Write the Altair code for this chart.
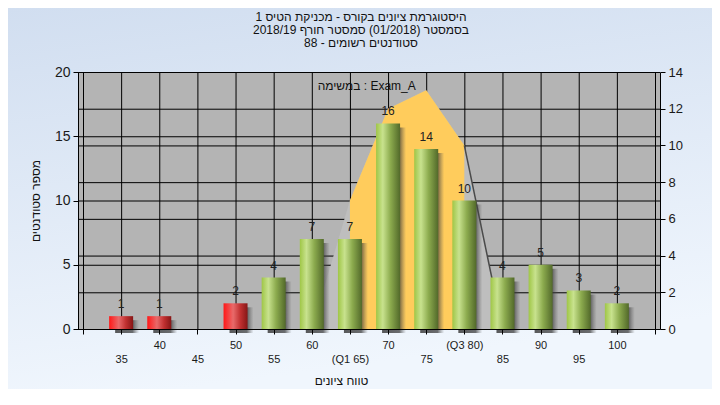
import altair as alt
import pandas as pd

# ---------------- data ----------------
grades = [35, 40, 45, 50, 55, 60, 65, 70, 75, 80, 85, 90, 95, 100]
counts = [1, 1, 0, 2, 4, 7, 7, 16, 14, 10, 4, 5, 3, 2]
pass_mark = 55

curve_grades = [60, 65, 70, 75, 80, 85]
curve_values = [0, 7, 12, 13, 10, 0]
q1, q3 = 65, 80

x_ticks = [30, 35, 40, 45, 50, 55, 60, 65, 70, 75, 80, 85, 90, 95, 100, 105]
left_ticks = [0, 5, 10, 15, 20]
right_ticks = [0, 2, 4, 6, 8, 10, 12, 14]
special_labels = {65: "(Q1 65)", 80: "(Q3 80)"}

title_lines = [
    "היסטוגרמת ציונים בקורס - מכניקת הטיס 1",
    "בסמסטר  (01/2018)  סמסטר חורף 2018/19",
    "סטודנטים רשומים - 88",
]
y_title = "מספר סטודנטים"
x_title = "טווח ציונים"
note_text = ["במשימה : Exam_A"]
note_x = [67.2]
note_y = [18.9]

FONT = "Liberation Sans, DejaVu Sans, sans-serif"
W, H = 582, 257
PAD = {"left": 70, "top": 64, "right": 52, "bottom": 60}

bars_df = pd.DataFrame({"grade": grades, "count": counts})
curve_df = pd.DataFrame({"grade": curve_grades, "value": curve_values})
note_df = pd.DataFrame({"text": note_text, "grade": note_x, "count": note_y})

# label expression: staggered two rows, Q1/Q3 annotated
parts = []
for v, s in special_labels.items():
    parts.append(f"datum.value == {v} ? '{s}'")
lab = " : ".join(parts) + " : datum.label"
label_expr = (
    f"(datum.value == {x_ticks[0]} || datum.value == {x_ticks[-1]}) ? '' : "
    f"(datum.value % 10 == 5 ? ['', ({lab})] : ({lab}))"
)

x_scale = alt.Scale(domain=[x_ticks[0], x_ticks[-1]], nice=False, zero=False)
left_scale = alt.Scale(domain=[left_ticks[0], left_ticks[-1]], nice=False)
right_scale = alt.Scale(domain=[right_ticks[0], right_ticks[-1]], nice=False)

x_axis = alt.Axis(
    values=x_ticks, grid=False, zindex=1,
    domainColor="black", tickColor="black", tickSize=5,
    labelExpr=label_expr, labelFontSize=11, labelPadding=5, labelLineHeight=14,
    labelOverlap=False, labelFlush=False, labelColor="#1a1a1a", labelFont=FONT,
    title=x_title, titleFontSize=12, titleFontWeight="normal", titleFont=FONT,
    titlePadding=11, titleColor="#111", titleX=263,
)

left_axis = alt.Axis(
    orient="left", values=left_ticks, grid=False, zindex=1,
    domainColor="black", tickColor="black", tickSize=5,
    labelFontSize=14, labelPadding=3, labelColor="#1a1a1a", labelFont=FONT,
    title=y_title, titleFontSize=12, titleFontWeight="normal", titleFont=FONT,
    titlePadding=12, titleColor="#111",
)

right_axis = alt.Axis(
    orient="right", values=right_ticks, grid=False, zindex=1,
    domainColor="black", tickColor="black", tickSize=5,
    labelFontSize=13, labelPadding=3, labelColor="#1a1a1a", labelFont=FONT,
    title=None,
)

X = alt.X("grade:Q", scale=x_scale, axis=x_axis)
Y_left = alt.Y("count:Q", scale=left_scale, axis=left_axis)
Y_left_plain = alt.Y("count:Q", scale=left_scale, axis=None)
Y_right = alt.Y("value:Q", scale=right_scale, axis=right_axis)

# ---- background, plot area and grid (left scale) ----
bg_grad = {
    "gradient": "linear", "x1": 0, "y1": 0, "x2": 0.25, "y2": 1,
    "stops": [
        {"offset": 0, "color": "#d1def0"},
        {"offset": 1, "color": "#f0f6fd"},
    ],
}
one = pd.DataFrame({"k": [0]})
page_bg = alt.Chart(one).mark_rect(color=bg_grad).encode(
    x=alt.value(-PAD["left"]), x2=alt.value(W + PAD["right"]),
    y=alt.value(-PAD["top"]), y2=alt.value(H + PAD["bottom"]),
)
plot_bg = alt.Chart(one).mark_rect(color="#b4b4b4").encode(
    x=alt.value(0), x2=alt.value(W), y=alt.value(0), y2=alt.value(H),
)
vgrid = alt.Chart(pd.DataFrame({"grade": x_ticks})).mark_rule(
    color="black", strokeWidth=1, xOffset=0.5
).encode(x=X)
lgrid = alt.Chart(pd.DataFrame({"count": left_ticks})).mark_rule(
    color="black", strokeWidth=1, yOffset=0.5
).encode(y=Y_left_plain)
base_layer = alt.layer(page_bg, plot_bg, vgrid, lgrid)

# ---- curve (right axis) ----
rgrid = alt.Chart(pd.DataFrame({"value": right_ticks})).mark_rule(
    color="black", strokeWidth=1, yOffset=0.5
).encode(y=Y_right)
curve_base = alt.Chart(curve_df)
gray_area = curve_base.mark_area(color="#bebebe").encode(x=X, y=Y_right)
yellow_area = curve_base.mark_area(color="#ffcc5c").encode(x=X, y=Y_right).transform_filter(
    f"datum.grade >= {q1} && datum.grade <= {q3}"
)
tail_line = curve_base.mark_line(color="#4a4a4a", strokeWidth=1.5).encode(x=X, y=Y_right).transform_filter(
    f"datum.grade >= {q3}"
)
curve_layer = alt.layer(rgrid, gray_area, yellow_area, tail_line)

# ---- bars (left axis) ----
green_grad = {
    "gradient": "linear", "x1": 0, "x2": 1, "y1": 0, "y2": 0,
    "stops": [
        {"offset": 0, "color": "#9fc646"},
        {"offset": 0.28, "color": "#c8e28e"},
        {"offset": 0.6, "color": "#8cab4e"},
        {"offset": 1, "color": "#52692a"},
    ],
}
red_grad = {
    "gradient": "linear", "x1": 0, "x2": 1, "y1": 0, "y2": 0,
    "stops": [
        {"offset": 0, "color": "#ff1818"},
        {"offset": 0.4, "color": "#e86a6a"},
        {"offset": 0.7, "color": "#c03030"},
        {"offset": 1, "color": "#861616"},
    ],
}
shadow_grad = {
    "gradient": "linear", "x1": 0, "x2": 1, "y1": 0, "y2": 0,
    "stops": [
        {"offset": 0, "color": "rgba(50,50,50,0.8)"},
        {"offset": 0.72, "color": "rgba(50,50,50,0.7)"},
        {"offset": 0.86, "color": "rgba(70,70,70,0.35)"},
        {"offset": 1, "color": "rgba(90,90,90,0)"},
    ],
}

bar_base = alt.Chart(bars_df).transform_filter("datum.count > 0")
shadows = bar_base.mark_bar(width=24, xOffset=6, yOffset=4, y2Offset=3, color=shadow_grad).encode(
    x=X, y=Y_left
)
red_bars = bar_base.mark_bar(width=24, color=red_grad).encode(x=X, y=Y_left).transform_filter(
    f"datum.grade < {pass_mark}"
)
green_bars = bar_base.mark_bar(width=24, color=green_grad).encode(x=X, y=Y_left).transform_filter(
    f"datum.grade >= {pass_mark}"
)
labels = bar_base.mark_text(dy=-12, baseline="middle", fontSize=12, color="#222", font=FONT).encode(
    x=X, y=Y_left, text="count:Q"
)
note = alt.Chart(note_df).mark_text(fontSize=12, color="#111", font=FONT, baseline="middle").encode(
    x=X, y=Y_left, text="text:N",
)
bar_layer = alt.layer(shadows, red_bars, green_bars, labels, note)

chart = (
    alt.layer(base_layer, curve_layer, bar_layer)
    .resolve_scale(y="independent")
    .properties(
        width=W,
        height=H,
        autosize=alt.AutoSizeParams(type="none"),
        padding=PAD,
        background="#e2ebf7",
        title=alt.TitleParams(
            text=title_lines, fontSize=12, fontWeight="normal",
            font=FONT, color="#111", lineHeight=13, offset=-42, anchor="middle", dx=-8,
        ),
    )
    .configure_view(stroke=None)
)

chart.save("out.html", embed_options={"renderer": "svg", "actions": False})
